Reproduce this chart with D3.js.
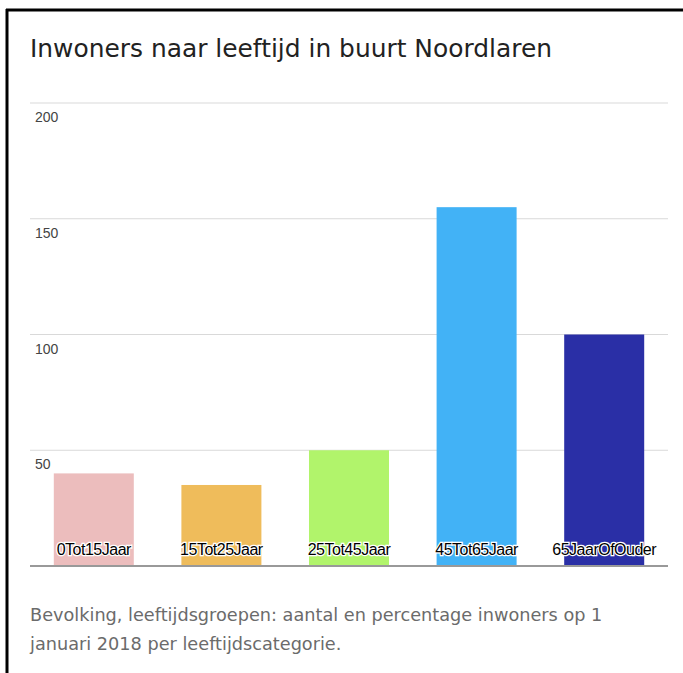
<!DOCTYPE html>
<html>
<head>
<meta charset="utf-8">
<script src="https://cdn.jsdelivr.net/npm/d3@7"></script>
<style>
  body { margin: 0; background: #fff; }
</style>
</head>
<body>
<div id="chart"></div>
<script>
// Age groups and counts for Noordlaren
let categories = ["0Tot15Jaar", "15Tot25Jaar", "25Tot45Jaar", "45Tot65Jaar", "65JaarOfOuder"];
let values = [40, 35, 50, 155, 100];
let barColors = ["#ecbdbd", "#efbc5b", "#b1f46b", "#42b2f6", "#2a2fa6"];
let yTicks = [50, 100, 150, 200];

let width = 683, height = 673;
let margin = {left: 30, right: 15, top: 103, bottom: 107};

let svg = d3.select("#chart")
    .append("svg")
    .attr("width", width)
    .attr("height", height);

// Frame: only top and left edges are visible
svg.append("line")
    .attr("x1", 6).attr("x2", width)
    .attr("y1", 10).attr("y2", 10)
    .attr("stroke", "#000").attr("stroke-width", 3);
svg.append("line")
    .attr("x1", 7).attr("x2", 7)
    .attr("y1", 9).attr("y2", height)
    .attr("stroke", "#000").attr("stroke-width", 3);

// Title
svg.append("text")
    .attr("x", 30)
    .attr("y", 57)
    .style("font-family", "'DejaVu Sans', sans-serif")
    .style("font-size", "24.9px")
    .attr("fill", "#222")
    .text("Inwoners naar leeftijd in buurt Noordlaren");

let x = d3.scaleBand()
    .domain(categories)
    .range([margin.left, width - margin.right])
    .paddingInner(0.373)
    .paddingOuter(0.1865);

let y = d3.scaleLinear()
    .domain([0, 200])
    .range([height - margin.bottom, margin.top]);

// Gridlines
svg.append("g")
    .selectAll("line")
    .data(yTicks)
    .enter()
    .append("line")
    .attr("x1", margin.left)
    .attr("x2", width - margin.right)
    .attr("y1", function(d) { return y(d); })
    .attr("y2", function(d) { return y(d); })
    .attr("stroke", "#d9d9d9")
    .attr("stroke-width", 1);

// Tick labels sit just below their gridline
svg.append("g")
    .selectAll("text")
    .data(yTicks)
    .enter()
    .append("text")
    .attr("x", 35)
    .attr("y", function(d) { return y(d) + 19; })
    .style("font-family", "'Liberation Sans', Arial, sans-serif")
    .style("font-size", "14px")
    .attr("fill", "#444")
    .text(function(d) { return d; });

// Bars
svg.append("g")
    .selectAll("rect")
    .data(values)
    .enter()
    .append("rect")
    .attr("x", function(d, i) { return x(categories[i]); })
    .attr("y", function(d) { return y(d); })
    .attr("width", x.bandwidth())
    .attr("height", function(d) { return y(0) - y(d); })
    .attr("fill", function(d, i) { return barColors[i]; });

// Baseline
svg.append("line")
    .attr("x1", margin.left)
    .attr("x2", width - margin.right)
    .attr("y1", y(0))
    .attr("y2", y(0))
    .attr("stroke", "#999")
    .attr("stroke-width", 2);

// Category labels inside the bars, with a white halo
svg.append("g")
    .selectAll("text")
    .data(categories)
    .enter()
    .append("text")
    .attr("x", function(d) { return x(d) + x.bandwidth() / 2; })
    .attr("y", y(0) - 11)
    .style("text-anchor", "middle")
    .style("font-family", "'Liberation Sans', Arial, sans-serif")
    .style("font-size", "16px")
    .style("letter-spacing", "-0.5px")
    .attr("fill", "#000")
    .attr("stroke", "#fff")
    .attr("stroke-width", 2.5)
    .attr("paint-order", "stroke")
    .text(function(d) { return d; });

// Caption
let caption = svg.append("text")
    .style("font-family", "'DejaVu Sans', sans-serif")
    .style("font-size", "17.7px")
    .attr("fill", "#6b6b6b");
caption.append("tspan").attr("x", 30).attr("y", 621)
    .text("Bevolking, leeftijdsgroepen: aantal en percentage inwoners op 1");
caption.append("tspan").attr("x", 30).attr("y", 650)
    .text("januari 2018 per leeftijdscategorie.");
</script>
</body>
</html>
